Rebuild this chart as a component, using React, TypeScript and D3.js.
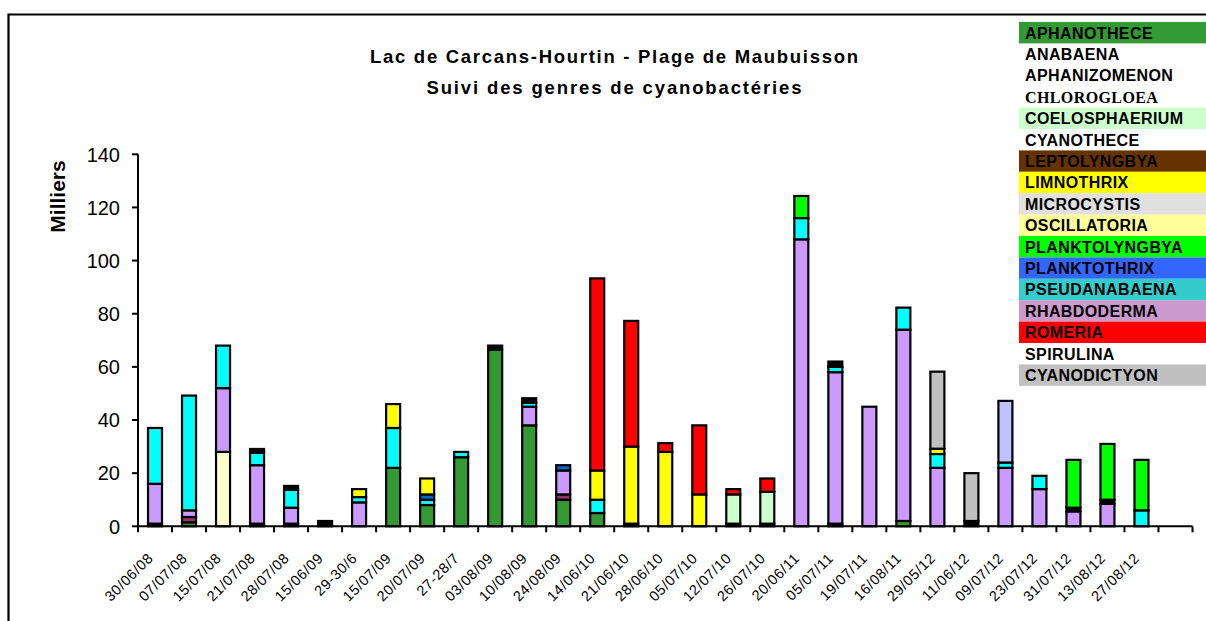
import React from "react";
import * as d3 from "d3";

const categories = [
  "30/06/08", "07/07/08", "15/07/08", "21/07/08", "28/07/08", "15/06/09", "29-30/6", "15/07/09",
  "20/07/09", "27-28/7", "03/08/09", "10/08/09", "24/08/09", "14/06/10", "21/06/10", "28/06/10",
  "05/07/10", "12/07/10", "26/07/10", "20/06/11", "05/07/11", "19/07/11", "16/08/11", "29/05/12",
  "11/06/12", "09/07/12", "23/07/12", "31/07/12", "13/08/12", "27/08/12",
];

// Values in thousands, stacked bottom -> top in this order
const aphanothece = [0, 1.5, 0, 0, 0, 0, 0, 22, 8, 26, 66.5, 38, 10, 5, 0, 0, 0, 0, 0, 0, 0, 0, 2, 0, 0, 0, 0, 0, 0, 0];
const anabaena = [1, 0, 0, 1, 1, 2, 0, 0, 0, 0, 0, 0, 0, 0, 1, 0, 0, 1, 1, 0, 1, 0, 0, 0, 2, 0, 0, 0, 0, 0];
const coelosphaerium = [0, 0, 0, 0, 0, 0, 0, 0, 0, 0, 0, 0, 0, 0, 0, 0, 0, 11, 12, 0, 0, 0, 0, 0, 0, 0, 0, 0, 0, 0];
const oscillatoria = [0, 0, 28, 0, 0, 0, 0, 0, 0, 0, 0, 0, 0, 0, 0, 0, 0, 0, 0, 0, 0, 0, 0, 0, 0, 0, 0, 0, 0, 0];
const leptolyngbya = [0, 2, 0, 0, 0, 0, 0, 0, 0, 0, 0, 0, 2, 0, 0, 0, 0, 0, 0, 0, 0, 0, 0, 0, 0, 0, 0, 0, 0, 0];
const microcystis = [15, 2.5, 24, 22, 6, 0, 9, 0, 0, 0, 0, 7, 9, 0, 0, 0, 0, 0, 0, 108, 57, 45, 72, 22, 0, 22, 14, 5.6, 8.5, 0];
const pseudanabaena = [21, 43.2, 16, 4.7, 6.7, 0, 2, 15, 2, 2, 0, 1.5, 0, 5, 0, 0, 0, 0, 0, 8, 2, 0, 8.3, 5.2, 0, 2, 5, 0, 0, 6];
const planktothrix = [0, 0, 0, 0, 0, 0, 0, 0, 2, 0, 0, 0, 2, 0, 0, 0, 0, 0, 0, 0, 0, 0, 0, 0, 0, 0, 0, 0, 0, 0];
const spirulina = [0, 0, 0, 1.4, 1.5, 0, 0, 0, 0, 0, 1.5, 1.7, 0, 0, 0, 0, 0, 0, 0, 0, 2, 0, 0, 0, 0, 0, 0, 1.4, 1.5, 0];
const limnothrix = [0, 0, 0, 0, 0, 0, 3, 9, 6, 0, 0, 0, 0, 11, 29, 28, 12, 0, 0, 0, 0, 0, 0, 2, 0, 0, 0, 0, 0, 0];
const romeria = [0, 0, 0, 0, 0, 0, 0, 0, 0, 0, 0, 0, 0, 72.3, 47.3, 3.3, 26, 2, 5, 0, 0, 0, 0, 0, 0, 0, 0, 0, 0, 0];
const planktolyngbya = [0, 0, 0, 0, 0, 0, 0, 0, 0, 0, 0, 0, 0, 0, 0, 0, 0, 0, 0, 8.3, 0, 0, 0, 0, 0, 0, 0, 18, 21, 19];
const cyanodictyon = [0, 0, 0, 0, 0, 0, 0, 0, 0, 0, 0, 0, 0, 0, 0, 0, 0, 0, 0, 0, 0, 0, 0, 29, 18, 0, 0, 0, 0, 0];
const aphanizomenon = [0, 0, 0, 0, 0, 0, 0, 0, 0, 0, 0, 0, 0, 0, 0, 0, 0, 0, 0, 0, 0, 0, 0, 0, 0, 23.2, 0, 0, 0, 0];

const seriesNames = [
  "APHANOTHECE", "ANABAENA", "COELOSPHAERIUM", "OSCILLATORIA", "LEPTOLYNGBYA", "MICROCYSTIS",
  "PSEUDANABAENA", "PLANKTOTHRIX", "SPIRULINA", "LIMNOTHRIX", "ROMERIA", "PLANKTOLYNGBYA",
  "CYANODICTYON", "APHANIZOMENON",
];
const seriesValues = [
  aphanothece, anabaena, coelosphaerium, oscillatoria, leptolyngbya, microcystis,
  pseudanabaena, planktothrix, spirulina, limnothrix, romeria, planktolyngbya,
  cyanodictyon, aphanizomenon,
];
const seriesColors = [
  "#339933", "#000000", "#CCFFCC", "#FFFFCC", "#993366", "#CC99FF",
  "#00FFFF", "#0066CC", "#000000", "#FFFF00", "#FF0000", "#00FF00",
  "#C0C0C0", "#C0C0FF",
];

const legendLabels = [
  "APHANOTHECE", "ANABAENA", "APHANIZOMENON", "CHLOROGLOEA", "COELOSPHAERIUM", "CYANOTHECE",
  "LEPTOLYNGBYA", "LIMNOTHRIX", "MICROCYSTIS", "OSCILLATORIA", "PLANKTOLYNGBYA", "PLANKTOTHRIX",
  "PSEUDANABAENA", "RHABDODERMA", "ROMERIA", "SPIRULINA", "CYANODICTYON",
];
const legendColors = [
  "#339933", "none", "none", "none", "#CCFFCC", "none",
  "#663300", "#FFFF00", "#E0E0E0", "#FFFF99", "#00FF00", "#3366FF",
  "#33CCCC", "#CC99CC", "#FF0000", "none", "#C0C0C0",
];

const yTicks = [0, 20, 40, 60, 80, 100, 120, 140];
const titleLines = ["Lac de Carcans-Hourtin - Plage de Maubuisson", "Suivi des genres de cyanobactéries"];
const yAxisTitle = "Milliers";

const SANS = "'Liberation Sans', Arial, sans-serif";
const SERIF = "'Liberation Serif', 'Times New Roman', serif";

export default function App() {
  const W = 1206;
  const H = 621;
  const left = 138;
  const right = 1192.5;
  const bottom = 526.3;
  const top = 154.3;

  const domain = [...categories.map((_, i) => String(i)), "extra"];
  const x = d3.scaleBand<string>().domain(domain).range([left, right]).padding(0);
  const y = d3.scaleLinear().domain([0, 140]).range([bottom, top]);
  const barW = 14;

  const rows = categories.map((_, i) => {
    const r: Record<string, number> = {};
    seriesNames.forEach((n, k) => (r[n] = seriesValues[k][i]));
    return r;
  });
  const stacked = d3.stack<Record<string, number>>().keys(seriesNames)(rows);

  const tickXs = d3.range(domain.length + 1).map((i) => left + i * x.step());

  return (
    <svg
      width={W}
      height={H}
      style={{ position: "absolute", left: 0, top: 0, background: "#fff" }}
      fontFamily={SANS}
    >
      <rect x={0} y={0} width={W} height={H} fill="#fff" />
      <path d={`M8.5,${H} V14.5 H${W}`} fill="none" stroke="#000" strokeWidth={2.2} />

      {/* Title */}
      {titleLines.map((t, i) => (
        <text
          key={t}
          x={614}
          y={63 + i * 31}
          textAnchor="middle"
          fontWeight="bold"
          fontSize={18.5}
          textLength={i === 0 ? 488 : 375}
          lengthAdjust="spacing"
        >
          {t}
        </text>
      ))}

      {/* Y axis title */}
      <text
        transform={`translate(65,196.5) rotate(-90)`}
        textAnchor="middle"
        fontWeight="bold"
        fontSize={21}
      >
        {yAxisTitle}
      </text>

      {/* Bars */}
      {stacked.map((layer, k) =>
        layer.map((d, i) => {
          const v = d[1] - d[0];
          if (!(v > 0)) return null;
          const cx = (x(String(i)) as number) + x.bandwidth() / 2;
          return (
            <rect
              key={`${k}-${i}`}
              x={cx - barW / 2}
              y={y(d[1])}
              width={barW}
              height={y(d[0]) - y(d[1])}
              fill={seriesColors[k]}
              stroke="#000"
              strokeWidth={2.2}
            />
          );
        })
      )}

      {/* Y axis */}
      <line x1={left} x2={left} y1={top} y2={bottom} stroke="#000" strokeWidth={2} />
      {yTicks.map((t) => (
        <g key={t}>
          <line x1={left - 6} x2={left} y1={y(t)} y2={y(t)} stroke="#000" strokeWidth={2} />
          <text x={120} y={y(t)} dy="0.36em" textAnchor="end" fontSize={20}>
            {t}
          </text>
        </g>
      ))}

      {/* X axis */}
      <line x1={left} x2={right} y1={bottom} y2={bottom} stroke="#000" strokeWidth={2} />
      {tickXs.map((tx, i) => (
        <line key={i} x1={tx} x2={tx} y1={bottom} y2={bottom + 6} stroke="#000" strokeWidth={2} />
      ))}
      {categories.map((c, i) => {
        const cx = (x(String(i)) as number) + x.bandwidth() / 2;
        return (
          <text
            key={c + i}
            transform={`translate(${cx - 1},559) rotate(-45)`}
            textAnchor="end"
            fontSize={14.5}
            letterSpacing={0.6}
          >
            {c}
          </text>
        );
      })}

      {/* Legend */}
      {legendLabels.map((l, i) => {
        const ty = 22 + i * 21.4;
        return (
          <g key={l}>
            {legendColors[i] !== "none" && (
              <rect x={1019} y={ty} width={W - 1019} height={21.4} fill={legendColors[i]} />
            )}
            <text
              x={1025}
              y={ty + 16.5}
              fontSize={16}
              fontWeight="bold"
              letterSpacing={0.4}
              fontFamily={l === "CHLOROGLOEA" ? SERIF : SANS}
            >
              {l}
            </text>
          </g>
        );
      })}
    </svg>
  );
}
